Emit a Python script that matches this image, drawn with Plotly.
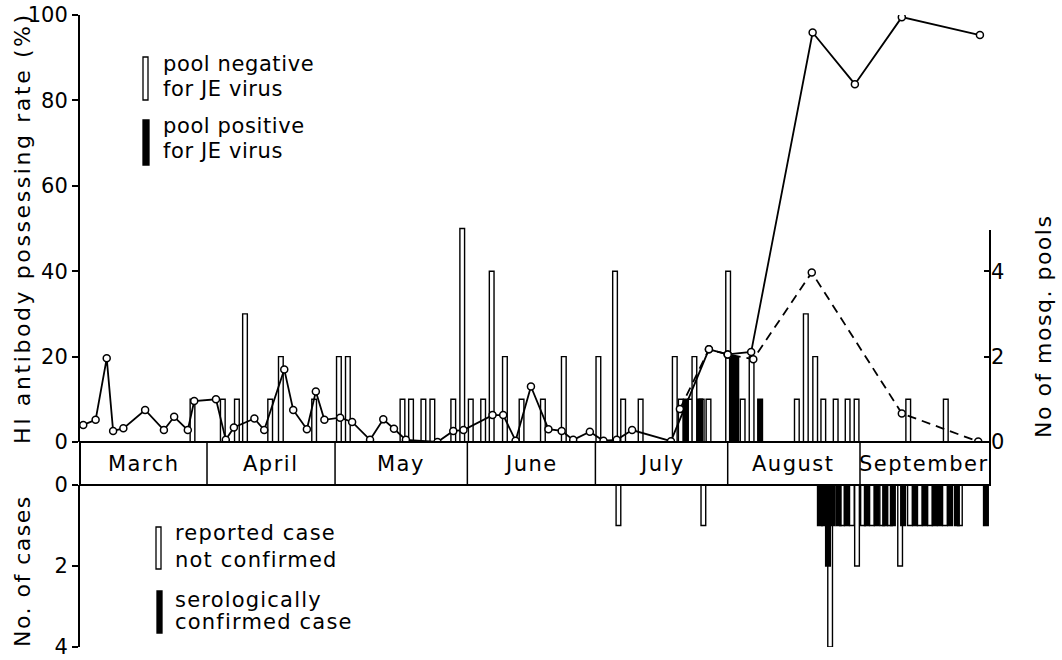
import plotly.graph_objects as go

# ---------------- data (x = day of season, day 1 = 1 March) ----------------
months = ["March", "April", "May", "June", "July", "August", "September"]
month_lengths = [31, 30, 31, 30, 31, 31, 30]

# HI antibody possessing rate (%) - solid line
hi_day = [2.0, 4.9, 7.5, 9.0, 11.4, 16.5, 20.9, 23.3, 26.5, 28.0,
          33.1, 35.4, 37.3, 42.1, 44.4, 49.1, 51.2, 54.4, 56.5, 58.5,
          62.2, 65.0, 69.2, 72.3, 74.8, 77.6, 85.0, 88.7, 91.1, 97.9,
          100.4, 103.3, 106.9, 111.0, 114.1, 116.8, 120.7, 123.9, 127.0, 130.6,
          139.7, 148.6, 153.0, 158.5, 172.9, 182.8, 193.8, 212.1]
hi_rate = [4.0, 5.2, 19.6, 2.6, 3.2, 7.5, 2.8, 5.9, 2.8, 9.6,
           10.0, 0.5, 3.4, 5.5, 2.8, 17.0, 7.5, 3.0, 11.8, 5.2,
           5.7, 4.7, 0.5, 5.3, 3.1, 0.5, 0.0, 2.6, 2.8, 6.3,
           6.3, 0.3, 13.0, 3.0, 2.6, 0.5, 2.4, 0.3, 0.5, 2.8,
           0.2, 21.7, 20.5, 21.1, 95.9, 83.8, 99.5, 95.3]

# second HI series - dashed line
hi2_day = [141.8, 148.6, 153.0, 159.0, 172.7, 193.8, 211.7]
hi2_rate = [7.7, 21.7, 20.5, 19.4, 39.7, 6.7, 0.1]

# mosquito pools negative for JE virus
neg_pool_day = [27.6, 34.7, 38.0, 39.9, 45.8, 48.3, 56.1, 61.9, 64.0, 76.8,
                78.8, 81.7, 83.8, 88.7, 90.8, 92.8, 95.7, 97.7, 100.8, 104.7,
                109.7, 114.6, 122.7, 126.6, 128.5, 132.6, 140.6, 142.0, 144.2, 145.2,
                146.9, 148.5, 153.1, 156.5, 158.6, 169.2, 171.3, 173.5, 175.4, 178.3,
                181.1, 183.2, 195.3, 204.1]
neg_pool_n = [1, 1, 1, 3, 1, 2, 1, 2, 2, 1,
              1, 1, 1, 1, 5, 1, 1, 4, 2, 1,
              1, 2, 2, 4, 1, 1, 2, 1, 1, 2,
              1, 1, 4, 1, 2, 1, 3, 2, 1, 1,
              1, 1, 1, 1]

# mosquito pools positive for JE virus
pos_pool_day = [143.2, 146.5, 154.0, 155.0, 160.6]
pos_pool_n = [1, 1, 2, 2, 1]

# reported cases not confirmed
unconf_day = [127.4, 147.3, 177.0, 179.8, 182.1, 183.3, 184.7, 186.8, 189.2, 191.0,
              193.4, 195.7, 198.0, 200.4, 203.9, 207.4]
unconf_n = [1, 1, 4, 1, 1, 2, 1, 1, 1, 1,
            2, 1, 1, 1, 1, 1]

# serologically confirmed cases
conf_day = [174.6, 175.6, 176.5, 177.6, 179.0, 180.9, 185.6, 187.9, 189.9, 191.7,
            194.1, 196.9, 199.2, 201.5, 202.7, 205.1, 206.7, 213.5]
conf_n = [1, 1, 2, 1, 1, 1, 1, 1, 1, 1,
          1, 1, 1, 1, 1, 1, 1, 1]

# ---------------- figure ----------------
FW, FH = 1062, 660
FONT = "DejaVu Sans"


def px(p):
    return p / FW


def py(p):
    return 1 - p / FH


def spaced(txt, sp):
    return '<span style="letter-spacing:%gpx">%s</span>' % (sp, txt)


X0, X1 = 1.24, 214.46
top0, top1 = py(442), py(15)
band_bot = py(485)
low0 = py(647)
XL, XR = px(80), px(990)

open_marker = dict(color="white", line=dict(color="black", width=1.4))
fill_marker = dict(color="black", line=dict(color="black", width=1.4))

fig = go.Figure()
fig.add_bar(x=neg_pool_day, y=neg_pool_n, width=1.1, marker=open_marker,
            xaxis="x", yaxis="y", name="pool negative for JE virus")
fig.add_bar(x=pos_pool_day, y=pos_pool_n, width=1.1, marker=fill_marker,
            xaxis="x", yaxis="y", name="pool positive for JE virus")
fig.add_bar(x=unconf_day, y=unconf_n, width=1.1, marker=open_marker,
            xaxis="x", yaxis="y3", name="reported case not confirmed")
fig.add_bar(x=conf_day, y=conf_n, width=1.1, marker=fill_marker,
            xaxis="x", yaxis="y3", name="serologically confirmed case")

circ = dict(symbol="circle", size=7, color="white", line=dict(color="black", width=1.5))
fig.add_scatter(x=hi2_day, y=hi2_rate, mode="lines+markers", xaxis="x", yaxis="y2",
                line=dict(color="black", width=1.8, dash="9px,6px"), marker=circ)
fig.add_scatter(x=hi_day, y=hi_rate, mode="lines+markers", xaxis="x", yaxis="y2",
                line=dict(color="black", width=1.8), marker=circ)

axis_common = dict(showgrid=False, zeroline=False, tickcolor="black", tickwidth=1.5,
                   ticklen=6, automargin=False, ticklabeloverflow="allow",
                   tickfont=dict(size=21, family=FONT, color="black"))

fig.update_layout(
    width=FW, height=FH, margin=dict(l=0, r=0, t=0, b=0, pad=0, autoexpand=False),
    paper_bgcolor="white", plot_bgcolor="white",
    showlegend=False, barmode="overlay",
    font=dict(family=FONT, color="black"),
    xaxis=dict(domain=[XL, XR], range=[X0, X1], visible=False, automargin=False),
    yaxis=dict(domain=[top0, top1], range=[0, 10], side="right", anchor="x",
               tickvals=[0, 2, 4], ticks="inside", showline=False, **axis_common),
    yaxis2=dict(overlaying="y", side="left", anchor="x", range=[0, 100],
                tickvals=[0, 20, 40, 60, 80, 100], ticks="outside",
                showline=True, linewidth=2, linecolor="black", **axis_common),
    yaxis3=dict(domain=[low0, band_bot], anchor="x", range=[4, 0],
                tickvals=[0, 2, 4], ticks="outside",
                showline=True, linewidth=2, linecolor="black", **axis_common),
)

shapes = []
# right axis line for pools
shapes.append(dict(type="line", xref="paper", yref="paper", x0=XR, x1=XR,
                   y0=top0, y1=py(230), line=dict(color="black", width=2)))
# month band
shapes.append(dict(type="rect", xref="paper", yref="paper", x0=XL, x1=XR,
                   y0=band_bot, y1=top0, line=dict(color="black", width=2)))
edges = [0]
for m in month_lengths:
    edges.append(edges[-1] + m)
for e in edges[1:-1]:
    shapes.append(dict(type="line", xref="x", yref="paper", x0=e, x1=e,
                       y0=band_bot, y1=top0, line=dict(color="black", width=1.5)))

annotations = []
for i, name in enumerate(months):
    a = max(edges[i], X0)
    b = min(edges[i + 1], X1)
    annotations.append(dict(x=(a + b) / 2, y=(band_bot + top0) / 2, xref="x", yref="paper",
                            text=spaced(name, 1.5), showarrow=False,
                            xanchor="center", yanchor="middle",
                            font=dict(size=21, family=FONT, color="black")))

# legend markers
shapes.append(dict(type="rect", xref="paper", yref="paper", x0=px(143), x1=px(148),
                   y0=py(100), y1=py(57), line=dict(color="black", width=1.3), fillcolor="white"))
shapes.append(dict(type="rect", xref="paper", yref="paper", x0=px(143), x1=px(149),
                   y0=py(165), y1=py(120), line=dict(color="black", width=1.3), fillcolor="black"))
shapes.append(dict(type="rect", xref="paper", yref="paper", x0=px(156), x1=px(161),
                   y0=py(569), y1=py(527), line=dict(color="black", width=1.3), fillcolor="white"))
shapes.append(dict(type="rect", xref="paper", yref="paper", x0=px(157), x1=px(162),
                   y0=py(633), y1=py(591), line=dict(color="black", width=1.3), fillcolor="black"))

legend_lines = [
    ("pool negative", 161, 64, 0.6), ("for JE virus", 161, 89, 0.6),
    ("pool positive", 161, 126, 0.6), ("for JE virus", 161, 151, 0.6),
    ("reported case", 173, 533, 1.2), ("not confirmed", 173, 560, 1.2),
    ("serologically", 173, 600, 1.2), ("confirmed case", 173, 622, 1.2),
]
for txt, x, y, sp in legend_lines:
    annotations.append(dict(x=px(x), y=py(y), xref="paper", yref="paper",
                            text=spaced(txt, sp),
                            showarrow=False, xanchor="left", yanchor="middle",
                            font=dict(size=21, family=FONT, color="black")))

# axis titles
title_font = dict(size=22, family=FONT, color="black")
annotations.append(dict(x=px(22), y=py(228), xref="paper", yref="paper",
                        text=spaced("HI antibody possessing rate (%)", 2.6), textangle=-90,
                        xanchor="center", yanchor="middle",
                        showarrow=False, font=title_font))
annotations.append(dict(x=px(22), y=py(571), xref="paper", yref="paper",
                        text=spaced("No. of cases", 1.5), textangle=-90,
                        xanchor="center", yanchor="middle",
                        showarrow=False, font=title_font))
annotations.append(dict(x=px(1043), y=py(327), xref="paper", yref="paper",
                        text=spaced("No of mosq. pools", 1.5), textangle=-90,
                        xanchor="center", yanchor="middle",
                        showarrow=False, font=title_font))

fig.update_layout(shapes=shapes, annotations=annotations)
# remove the default 8px page margin so the 1062x660 figure fills the window exactly
fig.write_html("out.html",
               config={"displayModeBar": False},
               post_script="document.body.style.margin='0px';"
                           "document.body.style.overflow='hidden';")
